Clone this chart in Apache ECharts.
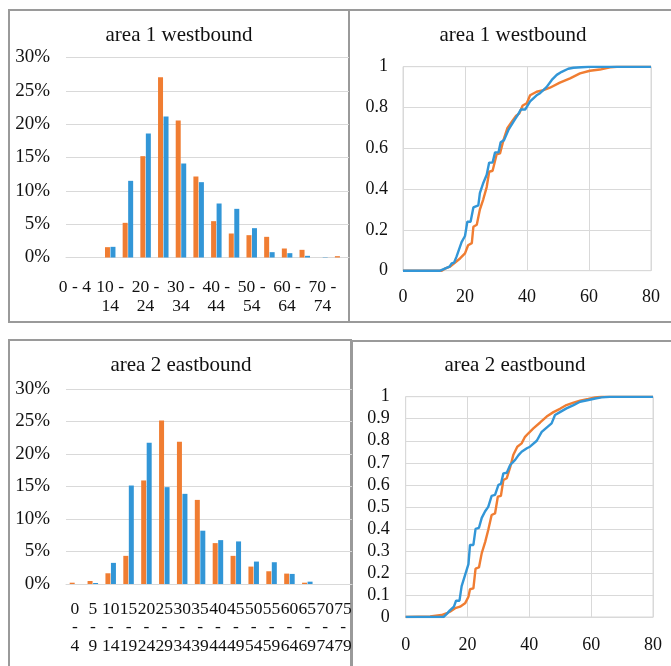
<!DOCTYPE html>
<html>
<head>
<meta charset="utf-8">
<script src="https://cdn.jsdelivr.net/npm/echarts@6/dist/echarts.min.js"></script>
<style>
html,body{margin:0;padding:0;background:#fff;}
#c{width:671px;height:666px;}
</style>
</head>
<body>
<div id="c"></div>
<script>
// ---- data ----
var categories = ["0 - 4","5 - 9","10 - 14","15 - 19","20 - 24","25 - 29","30 - 34","35 - 39","40 - 44","45 - 49","50 - 54","55 - 59","60 - 64","65 - 69","70 - 74","75 - 79"];
var area1Orange = [0, 0, 1.55, 5.2, 15.2, 27.05, 20.55, 12.15, 5.45, 3.6, 3.35, 3.1, 1.35, 1.15, 0, 0.2];
var area1Blue   = [0, 0, 1.6, 11.5, 18.6, 21.15, 14.1, 11.3, 8.1, 7.3, 4.4, 0.8, 0.65, 0.25, 0.05, 0];
var area2Orange = [0.2, 0.46, 1.65, 4.33, 15.93, 25.15, 21.9, 12.94, 6.29, 4.33, 2.68, 1.96, 1.6, 0.2, 0, 0];
var area2Blue   = [0, 0.15, 3.25, 15.15, 21.75, 14.9, 13.87, 8.2, 6.75, 6.55, 3.45, 3.35, 1.55, 0.36, 0, 0];

var titles = ["area 1 westbound", "area 1 westbound", "area 2 eastbound", "area 2 eastbound"];
var barTicks = [0, 5, 10, 15, 20, 25, 30];
var cdfXTicks = [0, 20, 40, 60, 80];

var cdf1OrangeX = [0, 12.5, 13.5, 15.2, 16.8, 18.4, 20, 21, 22.2, 22.7, 23.8, 24.8, 25.9, 27, 27.8, 28.9, 30.2, 31.3, 32.4, 33.7, 35.1, 36.5, 37.5, 38.6, 39.9, 41, 43.1, 45.3, 47.4, 50.6, 53.9, 57.1, 60.3, 63.5, 66.8, 69, 80];
var cdf1OrangeY = [0, 0, 0.01, 0.02, 0.04, 0.06, 0.085, 0.125, 0.135, 0.215, 0.225, 0.30, 0.35, 0.41, 0.485, 0.49, 0.57, 0.575, 0.64, 0.70, 0.73, 0.76, 0.77, 0.81, 0.82, 0.86, 0.877, 0.885, 0.897, 0.922, 0.943, 0.967, 0.98, 0.986, 0.997, 1, 1];
var cdf1BlueX = [0, 12, 13.5, 15, 15.7, 16.5, 17.3, 18.9, 20, 20.75, 21.8, 22.7, 24.3, 24.8, 25.9, 27, 27.8, 28.9, 29.7, 30.8, 31.5, 32.6, 34, 35.6, 36.9, 38, 39.4, 41, 43.1, 44.2, 46.3, 48, 49.6, 51.2, 53.3, 55, 60, 80];
var cdf1BlueY = [0, 0, 0.01, 0.02, 0.036, 0.04, 0.07, 0.14, 0.17, 0.24, 0.24, 0.31, 0.32, 0.38, 0.43, 0.47, 0.53, 0.53, 0.58, 0.58, 0.63, 0.64, 0.69, 0.73, 0.76, 0.79, 0.79, 0.83, 0.86, 0.87, 0.90, 0.935, 0.96, 0.975, 0.99, 0.995, 1, 1];

var cdf2OrangeX = [0, 7.9, 11.6, 13.3, 14.3, 16, 17.6, 19.2, 20.3, 20.8, 21.9, 22.6, 23.7, 24.6, 25.7, 26.7, 27.8, 28.9, 29.8, 30.8, 31.6, 32.7, 33.8, 34.8, 36.1, 37.5, 38.6, 39.7, 41.3, 43.5, 45.6, 47.8, 49.9, 52, 54.3, 56.4, 59.1, 61.3, 63.4, 80];
var cdf2OrangeY = [0, 0.002, 0.009, 0.017, 0.024, 0.04, 0.047, 0.062, 0.092, 0.126, 0.13, 0.22, 0.225, 0.29, 0.34, 0.395, 0.463, 0.47, 0.546, 0.55, 0.622, 0.63, 0.68, 0.735, 0.773, 0.788, 0.818, 0.834, 0.856, 0.883, 0.91, 0.93, 0.945, 0.962, 0.973, 0.982, 0.99, 0.997, 1, 1];
var cdf2BlueX = [0, 12.2, 13.3, 14.3, 15.6, 16.3, 17.4, 18.1, 19.2, 20.3, 20.8, 21.9, 22.6, 23.7, 24.6, 25.7, 26.7, 27.8, 28.9, 30, 30.8, 31.6, 32.7, 33.8, 35.4, 36.5, 37.5, 39.2, 40.2, 42.4, 44, 45.6, 47.2, 48.3, 49.9, 52, 54.3, 56.4, 59.1, 61.3, 63.4, 66, 80];
var cdf2BlueY = [0, 0, 0.014, 0.03, 0.047, 0.074, 0.074, 0.14, 0.19, 0.24, 0.327, 0.327, 0.40, 0.405, 0.45, 0.48, 0.50, 0.55, 0.554, 0.60, 0.604, 0.652, 0.655, 0.69, 0.713, 0.735, 0.75, 0.766, 0.773, 0.80, 0.84, 0.86, 0.879, 0.917, 0.93, 0.947, 0.962, 0.977, 0.985, 0.992, 0.997, 1, 1];

// ---- styling ----
var ORANGE = '#F07D32', BLUE = '#3296D7';
var FONT = 'Liberation Serif';
var GRIDC = '#d9d9d9';
var BORDERC = '#9a9a9a';

function zip(xs, ys){ return xs.map(function(x,i){ return [x, ys[i]]; }); }
function wrapTop(v){ return v.length > 5 ? v.replace(' - ', ' -\n') : v; }
function wrapStack(v){ return v.split(' ').join('\n'); }
function decFmt(v){ return String(+(+v).toFixed(1)); }

var chart = echarts.init(document.getElementById('c'), null, {renderer:'canvas'});

var titleStyle = {fontFamily: FONT, fontSize: 21, fontWeight: 'normal', color: '#111'};
function mkTitle(t, x, y){
  return {text: t, left: x, top: y, textAlign: 'center', textVerticalAlign: 'middle', padding: 0, textStyle: titleStyle};
}

function barYAxis(gi){
  return {type:'value', gridIndex: gi, min: barTicks[0], max: barTicks[barTicks.length-1], interval: 5,
    axisLine:{show:false}, axisTick:{show:false},
    splitLine:{lineStyle:{color: GRIDC, width: 1}},
    axisLabel:{formatter: '{value}%', fontFamily: FONT, fontSize: 19, color:'#111', margin: 16}};
}
function cdfXAxis(gi, margin){
  return {type:'value', gridIndex: gi, min: cdfXTicks[0], max: cdfXTicks[cdfXTicks.length-1], interval: 20,
    axisLine:{show:true, lineStyle:{color: GRIDC}}, axisTick:{show:false},
    splitLine:{show:true, lineStyle:{color: GRIDC}},
    axisLabel:{fontFamily: FONT, fontSize: 18, color:'#111', margin: margin}};
}
function cdfYAxis(gi, interval, margin){
  return {type:'value', gridIndex: gi, min: 0, max: 1, interval: interval,
    axisLine:{show:false}, axisTick:{show:false},
    splitLine:{show:true, lineStyle:{color: GRIDC}},
    axisLabel:{formatter: decFmt, fontFamily: FONT, fontSize: 18, color:'#111', margin: margin}};
}
function barSeries(data, color, gi){
  return {type:'bar', xAxisIndex: gi, yAxisIndex: gi, data: data, barWidth: 5, barGap: '10%',
    itemStyle:{color: color}, silent: true};
}
function lineSeries(data, color, gi){
  return {type:'line', xAxisIndex: gi, yAxisIndex: gi, data: data, showSymbol: false, symbol:'none',
    lineStyle:{color: color, width: 2.4}, itemStyle:{color: color}, silent: true, animation: false};
}

var option = {
  animation: false,
  backgroundColor: '#fff',
  title: [
    mkTitle(titles[0], 179, 35),
    mkTitle(titles[1], 513, 35),
    mkTitle(titles[2], 181, 365),
    mkTitle(titles[3], 515, 365)
  ],
  graphic: [
    {type:'rect', shape:{x:9, y:10, width:340, height:312}, style:{fill:'none', stroke: BORDERC, lineWidth: 2}, silent: true},
    {type:'rect', shape:{x:349, y:10, width:340, height:312}, style:{fill:'none', stroke: BORDERC, lineWidth: 2}, silent: true},
    {type:'rect', shape:{x:9, y:340, width:342, height:340}, style:{fill:'none', stroke: BORDERC, lineWidth: 2}, silent: true},
    {type:'rect', shape:{x:352, y:341, width:340, height:340}, style:{fill:'none', stroke: BORDERC, lineWidth: 2}, silent: true}
  ],
  grid: [
    {left: 66, top: 57.5, width: 283, height: 200},
    {left: 403, top: 66.7, width: 248, height: 204, show: true, borderColor: GRIDC, borderWidth: 1, backgroundColor: 'transparent'},
    {left: 66, top: 389, width: 286, height: 195},
    {left: 405.7, top: 396.7, width: 247.3, height: 220.3, show: true, borderColor: GRIDC, borderWidth: 1, backgroundColor: 'transparent'}
  ],
  xAxis: [
    {type:'category', gridIndex: 0, data: categories, axisTick:{show:false},
      axisLine:{lineStyle:{color: GRIDC}},
      axisLabel:{interval: 1, formatter: wrapTop, fontFamily: FONT, fontSize: 17.5, color:'#111', margin: 20, lineHeight: 19}},
    cdfXAxis(1, 18),
    {type:'category', gridIndex: 2, data: categories, axisTick:{show:false},
      axisLine:{lineStyle:{color: GRIDC}},
      axisLabel:{interval: 0, formatter: wrapStack, fontFamily: FONT, fontSize: 17.5, color:'#111', margin: 16, lineHeight: 18.5}},
    cdfXAxis(3, 19)
  ],
  yAxis: [
    barYAxis(0),
    cdfYAxis(1, 0.2, 15),
    barYAxis(2),
    cdfYAxis(3, 0.1, 16)
  ],
  series: [
    barSeries(area1Orange, ORANGE, 0),
    barSeries(area1Blue, BLUE, 0),
    lineSeries(zip(cdf1OrangeX, cdf1OrangeY), ORANGE, 1),
    lineSeries(zip(cdf1BlueX, cdf1BlueY), BLUE, 1),
    barSeries(area2Orange, ORANGE, 2),
    barSeries(area2Blue, BLUE, 2),
    lineSeries(zip(cdf2OrangeX, cdf2OrangeY), ORANGE, 3),
    lineSeries(zip(cdf2BlueX, cdf2BlueY), BLUE, 3)
  ]
};
chart.setOption(option);
</script>
</body>
</html>
